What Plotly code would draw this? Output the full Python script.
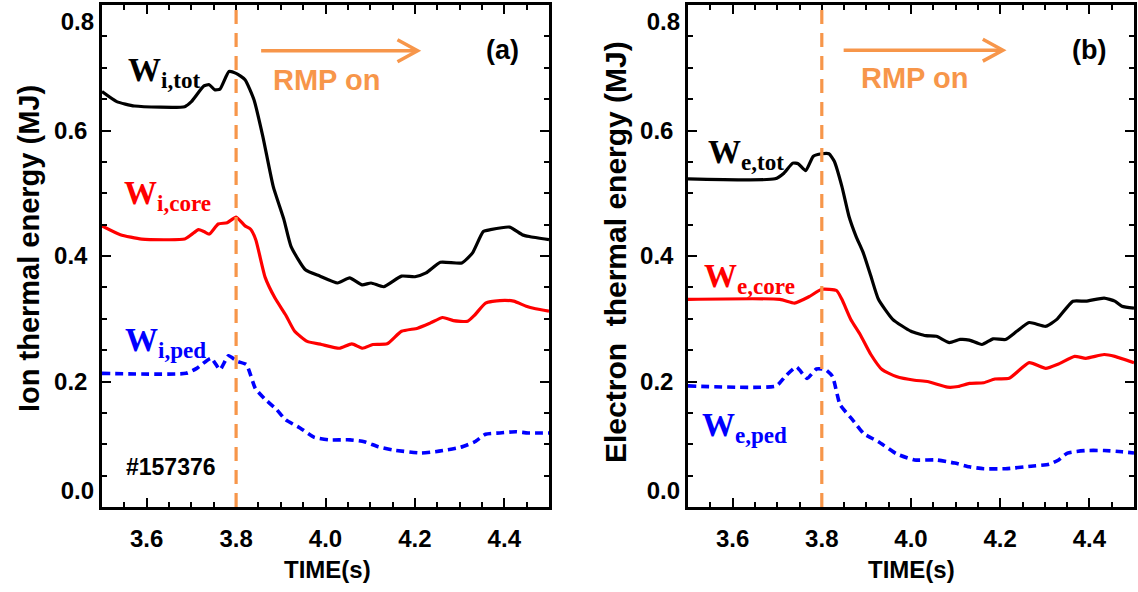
import plotly.graph_objects as go

# ---------------- data ----------------
# Panel (a): ion thermal energy (MJ)
t_i_tot = [3.5, 3.533, 3.573, 3.685, 3.70, 3.728, 3.74, 3.752, 3.764, 3.784, 3.80, 3.82, 3.84, 3.86,
           3.883, 3.907, 3.923, 3.955, 3.987, 4.027, 4.054, 4.082, 4.102, 4.13, 4.17, 4.20, 4.225,
           4.257, 4.305, 4.329, 4.353, 4.369, 4.412, 4.44, 4.456, 4.5]
w_i_tot = [0.662, 0.646, 0.639, 0.638, 0.646, 0.671, 0.673, 0.665, 0.666, 0.694, 0.691, 0.681, 0.649, 0.590,
           0.511, 0.458, 0.415, 0.378, 0.368, 0.357, 0.365, 0.354, 0.357, 0.351, 0.368, 0.367, 0.373,
           0.390, 0.389, 0.405, 0.439, 0.442, 0.446, 0.434, 0.431, 0.426]

t_i_core = [3.5, 3.541, 3.589, 3.685, 3.70, 3.716, 3.728, 3.74, 3.76, 3.78, 3.80, 3.82, 3.832, 3.844,
            3.865, 3.887, 3.911, 3.931, 3.959, 3.991, 4.031, 4.059, 4.083, 4.106, 4.138, 4.170, 4.206,
            4.234, 4.262, 4.286, 4.318, 4.334, 4.358, 4.390, 4.421, 4.449, 4.47, 4.5]
w_i_core = [0.448, 0.434, 0.427, 0.427, 0.434, 0.442, 0.439, 0.435, 0.451, 0.453, 0.462, 0.448, 0.443, 0.426,
            0.366, 0.333, 0.306, 0.280, 0.264, 0.259, 0.253, 0.260, 0.253, 0.259, 0.260, 0.280, 0.285,
            0.293, 0.302, 0.297, 0.296, 0.306, 0.325, 0.329, 0.328, 0.320, 0.316, 0.312]

t_i_ped = [3.5, 3.688, 3.712, 3.744, 3.764, 3.783, 3.803, 3.823, 3.843, 3.863, 3.891, 3.911, 3.943, 3.975,
           4.007, 4.055, 4.087, 4.118, 4.150, 4.214, 4.254, 4.302, 4.334, 4.358, 4.39, 4.426, 4.453, 4.5]
w_i_ped = [0.213, 0.213, 0.221, 0.237, 0.219, 0.241, 0.232, 0.227, 0.189, 0.173, 0.155, 0.139, 0.126, 0.111,
           0.107, 0.107, 0.104, 0.096, 0.091, 0.086, 0.089, 0.095, 0.104, 0.116, 0.118, 0.120, 0.118, 0.118]

# Panel (b): electron thermal energy (MJ)
t_e_tot = [3.5, 3.695, 3.715, 3.735, 3.747, 3.764, 3.781, 3.80, 3.816, 3.828, 3.845, 3.861, 3.877, 3.893,
           3.91, 3.927, 3.959, 4.0, 4.033, 4.057, 4.086, 4.11, 4.131, 4.159, 4.184, 4.212, 4.237, 4.265,
           4.302, 4.327, 4.363, 4.392, 4.433, 4.457, 4.473, 4.5]
w_e_tot = [0.523, 0.523, 0.532, 0.548, 0.547, 0.536, 0.559, 0.563, 0.563, 0.551, 0.511, 0.463, 0.431, 0.405,
           0.368, 0.331, 0.299, 0.280, 0.273, 0.272, 0.262, 0.267, 0.266, 0.259, 0.268, 0.267, 0.280, 0.294,
           0.288, 0.299, 0.328, 0.328, 0.333, 0.328, 0.320, 0.317]

t_e_core = [3.5, 3.706, 3.739, 3.771, 3.80, 3.833, 3.845, 3.865, 3.886, 3.910, 3.935, 3.967, 4.008, 4.037,
            4.082, 4.106, 4.131, 4.163, 4.188, 4.22, 4.265, 4.302, 4.331, 4.367, 4.392, 4.433, 4.457, 4.5]
w_e_core = [0.331, 0.331, 0.325, 0.335, 0.347, 0.345, 0.331, 0.299, 0.275, 0.243, 0.219, 0.208, 0.202, 0.200,
            0.191, 0.192, 0.197, 0.198, 0.204, 0.205, 0.230, 0.221, 0.228, 0.240, 0.237, 0.243, 0.240, 0.230]

t_e_ped = [3.5, 3.698, 3.718, 3.743, 3.767, 3.788, 3.808, 3.824, 3.841, 3.869, 3.894, 3.927, 3.967, 4.008,
           4.057, 4.098, 4.131, 4.163, 4.212, 4.269, 4.310, 4.331, 4.351, 4.392, 4.433, 4.473, 4.5]
w_e_ped = [0.193, 0.193, 0.208, 0.223, 0.205, 0.220, 0.219, 0.208, 0.163, 0.139, 0.117, 0.104, 0.085, 0.075,
           0.075, 0.070, 0.064, 0.061, 0.061, 0.065, 0.068, 0.075, 0.086, 0.090, 0.090, 0.088, 0.086]

RMP_ON_TIME = 3.8
x_tick_labels = ["3.6", "3.8", "4.0", "4.2", "4.4"]
x_tick_vals = [3.6, 3.8, 4.0, 4.2, 4.4]
y_tick_labels_mid = ["0.2", "0.4", "0.6"]
y_tick_vals_mid = [0.2, 0.4, 0.6]
y_tick_label_top, y_tick_val_top = "0.8", 0.8
y_tick_label_bot, y_tick_val_bot = "0.0", 0.0
Y_RANGE = [0.0, 0.8]
X_RANGE = [3.5, 4.5]

# ---------------- styles ----------------
ORANGE = "#F7964A"
BLACK = "#000000"
RED = "#FF0000"
BLUE = "#0000FF"
SANS = "Liberation Sans, Arial, sans-serif"
SERIF = "Liberation Serif, Times New Roman, serif"

W, H = 1138, 592
left_dom = [102 / W, 549 / W]
right_dom = [688 / W, 1134 / W]
y_dom = [1 - 507 / H, 1 - 5 / H]

fig = go.Figure()

def add_line(x, y, color, xa, ya, dash=None, width=3.2):
    fig.add_trace(go.Scatter(
        x=x, y=y, mode="lines", xaxis=xa, yaxis=ya, showlegend=False,
        line=dict(color=color, width=width, dash=dash, shape="spline", smoothing=0.5),
        hoverinfo="skip"))

add_line(t_i_tot, w_i_tot, BLACK, "x", "y")
add_line(t_i_core, w_i_core, RED, "x", "y")
add_line(t_i_ped, w_i_ped, BLUE, "x", "y", dash="8px,5px", width=3.6)
add_line(t_e_tot, w_e_tot, BLACK, "x2", "y2")
add_line(t_e_core, w_e_core, RED, "x2", "y2")
add_line(t_e_ped, w_e_ped, BLUE, "x2", "y2", dash="8px,5px", width=3.6)

TICKFONT = dict(family=SANS, size=24, color=BLACK, weight="bold")

xaxis_common = dict(
    range=X_RANGE, tickmode="array", tickvals=x_tick_vals, ticktext=x_tick_labels,
    ticks="inside", ticklen=9, tickwidth=2, tickcolor=BLACK,
    showline=True, linewidth=2.5, linecolor=BLACK, mirror="ticks",
    showgrid=False, zeroline=False, automargin=False, ticklabeloverflow="allow",
    minor=dict(tickmode="linear", tick0=3.5, dtick=0.05, ticks="inside", ticklen=5,
               tickwidth=1.6, tickcolor=BLACK, showgrid=False),
    tickfont=TICKFONT,
    ticklabelstandoff=8,
)
yaxis_common = dict(
    range=Y_RANGE, tickmode="array", tickvals=y_tick_vals_mid, ticktext=y_tick_labels_mid,
    ticks="inside", ticklen=9, tickwidth=2, tickcolor=BLACK,
    showline=True, linewidth=2.5, linecolor=BLACK, mirror="ticks",
    showgrid=False, zeroline=False, automargin=False, ticklabeloverflow="allow",
    minor=dict(tickmode="linear", tick0=0, dtick=0.05, ticks="inside", ticklen=5,
               tickwidth=1.6, tickcolor=BLACK, showgrid=False),
    tickfont=TICKFONT,
    ticklabelstandoff=7,
    domain=y_dom,
)
# overlay axes that only carry the end labels (kept inside the frame like the original)
def end_label_axis(overlay, anchor, val, text, pos):
    return dict(range=Y_RANGE, domain=y_dom, overlaying=overlay, anchor=anchor,
                tickmode="array", tickvals=[val], ticktext=[text], ticks="",
                showline=False, showgrid=False, zeroline=False, automargin=False,
                ticklabeloverflow="allow", ticklabelposition=pos, tickfont=TICKFONT,
                ticklabelstandoff=7, fixedrange=True)

fig.update_layout(
    width=W, height=H, margin=dict(l=0, r=0, t=0, b=0, autoexpand=False),
    paper_bgcolor="white", plot_bgcolor="white",
    xaxis=dict(xaxis_common, domain=left_dom, anchor="y"),
    yaxis=dict(yaxis_common, anchor="x"),
    xaxis2=dict(xaxis_common, domain=right_dom, anchor="y2"),
    yaxis2=dict(yaxis_common, anchor="x2"),
    yaxis3=end_label_axis("y", "x", y_tick_val_top, y_tick_label_top, "outside bottom"),
    yaxis4=end_label_axis("y", "x", y_tick_val_bot, y_tick_label_bot, "outside top"),
    yaxis5=end_label_axis("y2", "x2", y_tick_val_top, y_tick_label_top, "outside bottom"),
    yaxis6=end_label_axis("y2", "x2", y_tick_val_bot, y_tick_label_bot, "outside top"),
)
# empty carriers so the overlay axes are drawn
for xa, ya in (("x", "y3"), ("x", "y4"), ("x2", "y5"), ("x2", "y6")):
    fig.add_trace(go.Scatter(x=[], y=[], xaxis=xa, yaxis=ya, showlegend=False, hoverinfo="skip"))

shapes = []
annotations = []

for xr, yr in (("x", "y"), ("x2", "y2")):
    # RMP-on vertical dashed marker
    shapes.append(dict(type="line", xref=xr, yref=f"{yr} domain", x0=RMP_ON_TIME, x1=RMP_ON_TIME,
                       y0=0, y1=1, line=dict(color=ORANGE, width=3.2, dash="14px,9px"), layer="above"))

# arrows (start, end, y) and arrowhead size in data units
arrow_specs = [("x", "y", 3.856, 4.206, 0.727), ("x2", "y2", 3.849, 4.206, 0.728)]
HEAD_DX, HEAD_DY = 0.045, 0.0175
for xr, yr, xs, xe, ya in arrow_specs:
    shapes.append(dict(type="line", xref=xr, yref=yr, x0=xs, x1=xe - 0.003, y0=ya, y1=ya,
                       line=dict(color=ORANGE, width=3.5)))
    shapes.append(dict(type="path", xref=xr, yref=yr,
                       path=f"M {xe-HEAD_DX},{ya+HEAD_DY} L {xe},{ya} L {xe-HEAD_DX},{ya-HEAD_DY}",
                       line=dict(color=ORANGE, width=3.5)))

def txt(xr, yr, x, y, text, size, color, family, xanchor="center"):
    annotations.append(dict(xref=xr, yref=yr, x=x, y=y, text=text, showarrow=False,
                            xanchor=xanchor, yanchor="middle",
                            font=dict(size=size, color=color, family=family)))

# RMP on
txt("x", "y", 4.002, 0.681, "<b>RMP on</b>", 29, ORANGE, SANS)
txt("x2", "y2", 4.008, 0.683, "<b>RMP on</b>", 29, ORANGE, SANS)
# panel labels
txt("x", "y", 4.395, 0.728, "<b>(a)</b>", 27, BLACK, SANS)
txt("x2", "y2", 4.399, 0.728, "<b>(b)</b>", 27, BLACK, SANS)
# shot number
txt("x", "y", 3.655, 0.064, "<b>#157376</b>", 23, BLACK, SANS)
# curve labels
txt("x", "y", 3.553, 0.692, "<b>W<sub>i,tot</sub></b>", 33, BLACK, SERIF, "left")
txt("x", "y", 3.545, 0.497, "<b>W<sub>i,core</sub></b>", 33, RED, SERIF, "left")
txt("x", "y", 3.548, 0.262, "<b>W<sub>i,ped</sub></b>", 33, BLUE, SERIF, "left")
txt("x2", "y2", 3.541, 0.562, "<b>W<sub>e,tot</sub></b>", 33, BLACK, SERIF, "left")
txt("x2", "y2", 3.532, 0.364, "<b>W<sub>e,core</sub></b>", 33, RED, SERIF, "left")
txt("x2", "y2", 3.527, 0.127, "<b>W<sub>e,ped</sub></b>", 33, BLUE, SERIF, "left")

# axis titles
annotations.append(dict(xref="paper", yref="paper", x=29 / W, y=1 - 249 / H, text="<b>Ion thermal energy (MJ)</b>",
                        textangle=-90, showarrow=False, xanchor="center", yanchor="middle",
                        font=dict(size=29, color=BLACK, family=SANS)))
annotations.append(dict(xref="paper", yref="paper", x=615 / W, y=1 - 252 / H,
                        text="<b>Electron\u00a0\u00a0thermal energy (MJ)</b>",
                        textangle=-90, showarrow=False, xanchor="center", yanchor="middle",
                        font=dict(size=30, color=BLACK, family=SANS)))
annotations.append(dict(xref="paper", yref="paper", x=328 / W, y=1 - 569 / H, text="<b>TIME(s)</b>",
                        showarrow=False, xanchor="center", yanchor="middle",
                        font=dict(size=24, color=BLACK, family=SANS)))
annotations.append(dict(xref="paper", yref="paper", x=911 / W, y=1 - 569 / H, text="<b>TIME(s)</b>",
                        showarrow=False, xanchor="center", yanchor="middle",
                        font=dict(size=24, color=BLACK, family=SANS)))

fig.update_layout(shapes=shapes, annotations=annotations)
fig.write_html("out.html")
